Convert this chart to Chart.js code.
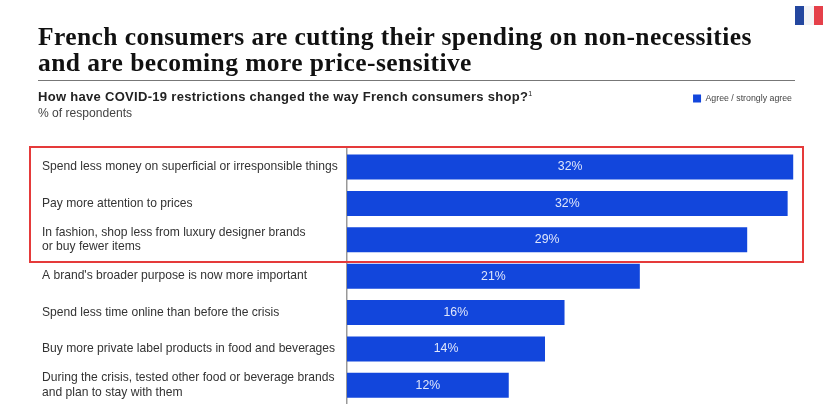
<!DOCTYPE html>
<html>
<head>
<meta charset="utf-8">
<script src="https://cdn.jsdelivr.net/npm/chart.js"></script>
<style>
  html, body { margin: 0; background: #fff; }
  body { position: relative; width: 832px; height: 418px; overflow: hidden; font-family: "Liberation Sans", sans-serif; }
  canvas { position: absolute; left: 0; top: 0; }
  .abs { position: absolute; white-space: nowrap; }
  #title { left: 38px; top: 24px; font: bold 25.5px/26px "Liberation Serif", serif; letter-spacing: 0.42px; color: #111; }
  #rule { left: 38px; top: 80px; width: 757px; height: 1px; background: #777; }
  #question { left: 38px; top: 90px; font: bold 13px/14px "Liberation Sans", sans-serif; letter-spacing: 0.3px; color: #222; }
  #question sup { font-size: 7px; font-weight: normal; line-height: 0; }
  #unit { left: 38px; top: 106px; font: 12.1px/14px "Liberation Sans", sans-serif; color: #444; }
  #highlight { left: 29px; top: 146px; width: 771px; height: 113px; border: 2px solid #e53a3a; }
  #flag { left: 795px; top: 6px; width: 28px; height: 19px; display: flex; }
  #flag i { flex: 1; }
</style>
</head>
<body>
<canvas id="shopChart" width="832" height="418"></canvas>
<div class="abs" id="title">French consumers are cutting their spending on non-necessities<br>and are becoming more price-sensitive</div>
<div class="abs" id="rule"></div>
<div class="abs" id="question">How have COVID-19 restrictions changed the way French consumers shop?<sup>1</sup></div>
<div class="abs" id="unit">% of respondents</div>
<div class="abs" id="highlight"></div>
<div class="abs" id="flag"><i style="background:#24479f"></i><i style="background:#f4f4f6"></i><i style="background:#e5404a"></i></div>
<script>
    // bar lengths, the printed labels are rounded
    var categories = [
        'Spend less money on superficial or irresponsible things',
        'Pay more attention to prices',
        ['In fashion, shop less from luxury designer brands', 'or buy fewer items'],
        "A brand's broader purpose is now more important",
        'Spend less time online than before the crisis',
        'Buy more private label products in food and beverages',
        ['During the crisis, tested other food or beverage brands', 'and plan to stay with them']
    ];
    var agreeValues = [32.0, 31.6, 28.7, 21.0, 15.6, 14.2, 11.6];
    var valueLabels = ['32%', '32%', '29%', '21%', '16%', '14%', '12%'];
    var seriesName = 'Agree / strongly agree';

    // the library has no built-in value labels
    var barLabels = {
        id: 'barLabels',
        afterDatasetsDraw: function (chart) {
            var c = chart.ctx;
            c.save();
            c.fillStyle = '#dfe6fb';
            c.font = '12.3px "Liberation Sans"';
            c.textAlign = 'center';
            c.textBaseline = 'middle';
            chart.getDatasetMeta(0).data.forEach(function (bar, i) {
                c.fillText(valueLabels[i], bar.getCenterPoint().x, bar.getCenterPoint().y);
            });
            c.restore();
        }
    };

    var ctx = document.getElementById('shopChart').getContext('2d');
    var shopChart = new Chart(ctx, {
        type: 'bar',
        data: {
            labels: categories,
            datasets: [{
                label: seriesName,
                data: agreeValues,
                backgroundColor: '#1246dc',
                barPercentage: 0.687,
                categoryPercentage: 1
            }]
        },
        options: {
            indexAxis: 'y',
            responsive: false,
            animation: false,
            layout: { padding: { left: 42, right: 36, top: 90, bottom: 14.5 } },
            plugins: {
                tooltip: { enabled: false },
                legend: {
                    position: 'top',
                    align: 'end',
                    labels: {
                        boxWidth: 8,
                        boxHeight: 8,
                        padding: 4,
                        color: '#444',
                        font: { size: 8.8, family: '"Liberation Sans"' }
                    }
                }
            },
            scales: {
                x: {
                    position: 'top',
                    min: 0,
                    max: 32.2,
                    grid: { display: false },
                    border: { display: false },
                    ticks: { display: false },
                    afterFit: function (scale) { scale.height = 36; }
                },
                y: {
                    grid: { display: false },
                    border: { color: '#999', width: 1.5 },
                    afterFit: function (scale) { scale.width = 305; },
                    ticks: {
                        autoSkip: false,
                        crossAlign: 'far',
                        color: '#333',
                        font: { size: 12.1, family: '"Liberation Sans"', lineHeight: 1.22 }
                    }
                }
            }
        },
        plugins: [barLabels]
    });
</script>
</body>
</html>
